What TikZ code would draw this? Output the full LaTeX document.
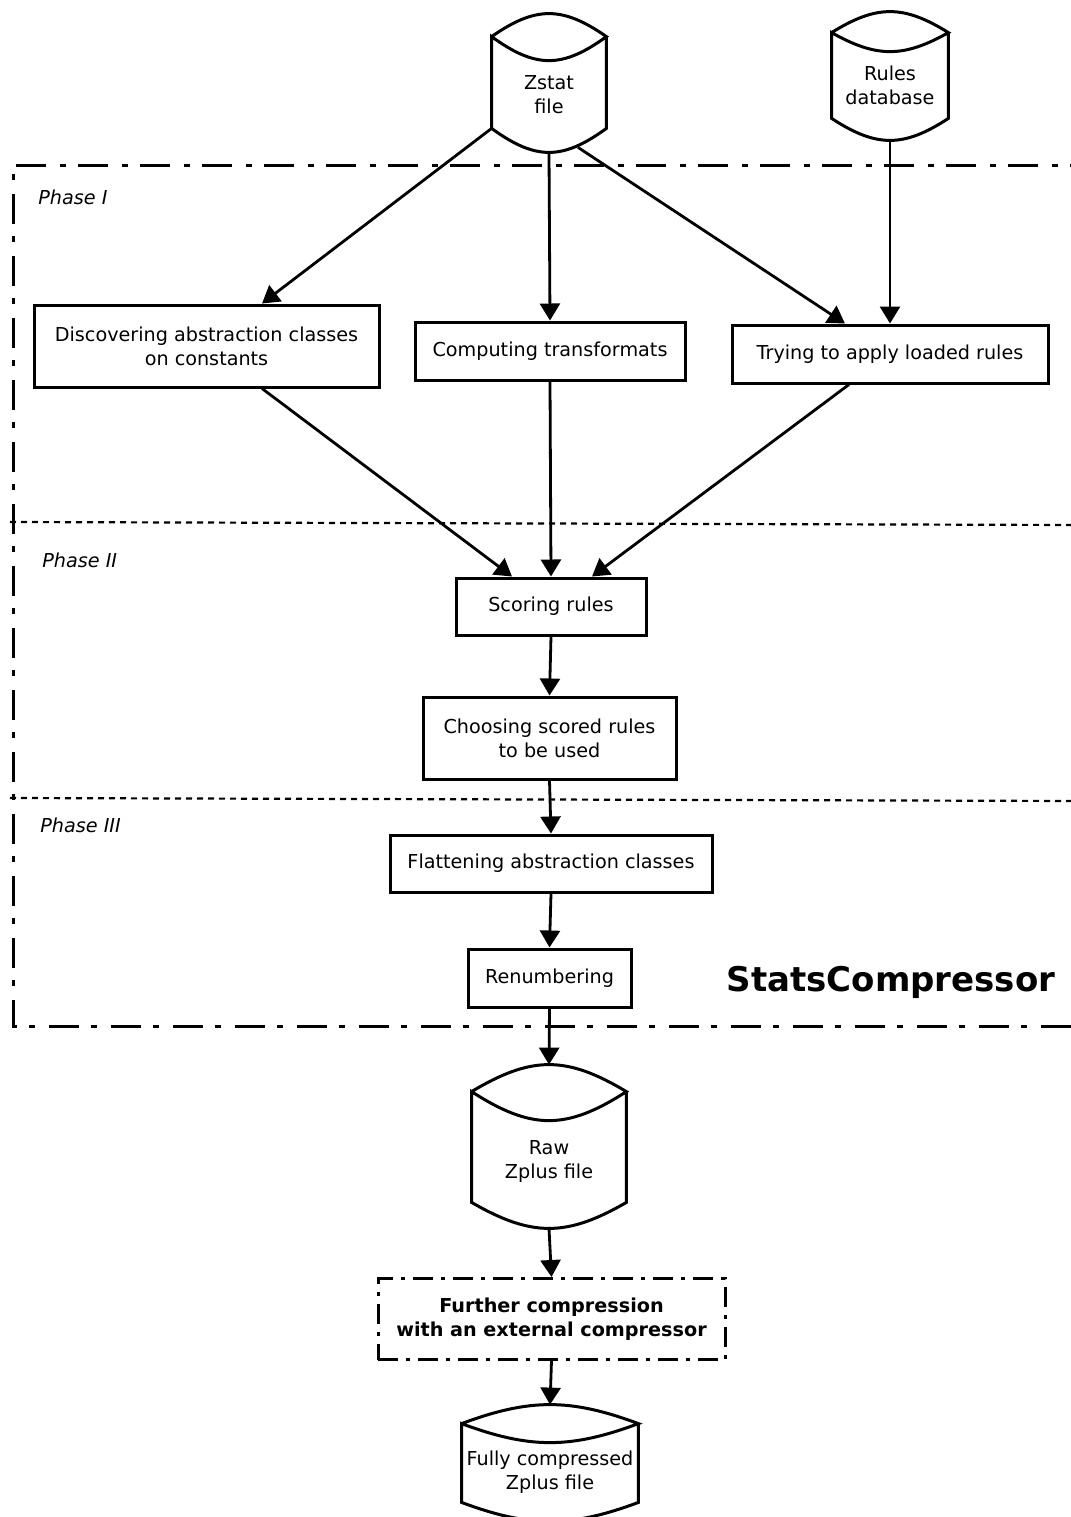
\documentclass[tikz,border=0pt]{standalone}
\usepackage{fontspec}
\setmainfont{DejaVu Sans}
\usetikzlibrary{arrows.meta}
\usetikzlibrary{calc}
\tikzset{
	node_box/.style = {
		align=center,
		draw=black,
		line width=1.5pt,
		inner sep=0pt,
		font=\fontsize{9.6}{12}\selectfont
	},
	node_db/.style = {
		align=center,
		inner sep=0pt,
		font=\fontsize{9.6}{12}\selectfont
	},
	node_ext/.style = {
		node_box,
		font=\fontsize{9.6}{12}\selectfont\bfseries,
		dash pattern=on 10pt off 4pt on 2pt off 4pt
	},
	node_phase/.style = {
		anchor=west,
		inner sep=0pt,
		font=\fontsize{9.6}{12}\selectfont\itshape
	},
	line_db/.style = {
		line width=1.5pt
	},
	line_frame/.style = {
		line width=1.5pt,
		dash pattern=on 15pt off 6pt on 3pt off 7pt
	},
	line_phase/.style = {
		line width=1.1pt,
		dash pattern=on 3pt off 2.5pt
	},
	arrow/.style = {
		->,
		line width=1.4pt
	},
}
% outline of a storage drum round the node #1
\newcommand{\drum}[5]{%
	\draw[line_db] ($(#1.north west)+(0,-#4)$) coordinate (#1-tl)
		.. controls +(#2,-#3*4/3) and +(-#2,-#3*4/3) .. ($(#1.north east)+(0,-#4)$) coordinate (#1-tr)
		.. controls +(-#2,#4*4/3) and +(#2,#4*4/3) .. (#1-tl)
		-- (#1.south west)
		.. controls +(#2,#5*4/3) and +(-#2,#5*4/3) .. (#1.south east)
		-- (#1-tr);
	\coordinate (#1-top) at ($(#1.north)+(0,-#4-#3)$);
	\coordinate (#1-bot) at ($(#1.south)+(0,#5)$);
}

\begin{document}
\begin{tikzpicture}[x=0.5pt, y=-0.5pt, >={Triangle[length=8.5pt,width=10pt]}]
\useasboundingbox (0,0) rectangle (1071,1517);
% phases
\draw [line_frame] (1100,165) -- (13,165) -- (13,1026) -- (1100,1026);
\draw [line_phase] (10,522) -- (1080,525);
\draw [line_phase] (10,798) -- (1080,801);
\node [node_phase] (ph1) at (38,197) {Phase I};
\node [node_phase] (ph2) at (42,560) {Phase II};
\node [node_phase] (ph3) at (40,825) {Phase III};
\node [font=\fontsize{17}{20}\selectfont\bfseries] (title) at (891,982) {StatsCompressor};
% storages
\node [node_db, minimum width=57pt, minimum height=33.5pt] (zstat) at (549,94.5) {Zstat\\file};
\drum{zstat}{44}{23}{24}{24}
\node [node_db, minimum width=58pt, minimum height=33pt] (rules) at (890,85) {Rules\\database};
\drum{rules}{45}{21}{19}{22}
\node [node_db, minimum width=77pt, minimum height=40.5pt] (raw) at (549,1161.5) {Raw\\Zplus file};
\drum{raw}{60}{27}{29}{26}
\node [node_db, minimum width=88pt, minimum height=29.5pt] (fully) at (550,1472.5) {Fully compressed\\Zplus file};
\drum{fully}{68}{19}{19}{19}
% steps
\node [node_box, minimum width=172.5pt, minimum height=41pt] (disc) at (206.5,346) {Discovering abstraction classes\\on constants};
\node [node_box, minimum width=135pt, minimum height=29pt] (comp) at (550,351) {Computing transformats};
\node [node_box, minimum width=158pt, minimum height=29pt] (try) at (890,354) {Trying to apply loaded rules};
\node [node_box, minimum width=95pt, minimum height=28.5pt] (score) at (551,606.5) {Scoring rules};
\node [node_box, minimum width=126.5pt, minimum height=41pt] (choose) at (549.5,738) {Choosing scored rules\\to be used};
\node [node_box, minimum width=161pt, minimum height=28.5pt] (flat) at (551,863.5) {Flattening abstraction classes};
\node [node_box, minimum width=81.5pt, minimum height=29pt] (renum) at (549.5,978) {Renumbering};
\node [node_ext, minimum width=173.5pt, minimum height=40.5pt] (further) at (551.5,1319) {Further compression\\with an external compressor};
% connectors
\draw [arrow] (zstat.south west) -- ([xshift=27.75pt]disc.north);
\draw [arrow] (zstat-bot) -- (comp.north);
\draw [arrow] ([xshift=14.5pt,yshift=2.5pt]zstat-bot) -- ([xshift=-22.5pt]try.north);
\draw [arrow] (rules-bot) -- (try.north);
\draw [arrow] ([xshift=27.75pt]disc.south) -- ([xshift=-19.5pt]score.north);
\draw [arrow] (comp.south) -- (score.north);
\draw [arrow] ([xshift=-20.5pt]try.south) -- ([xshift=20.5pt]score.north);
\draw [arrow] (score.south) -- (choose.north);
\draw [arrow] (choose.south) -- (flat.north);
\draw [arrow] (flat.south) -- (renum.north);
\draw [arrow] (renum.south) -- (raw-top);
\draw [arrow] (raw-bot) -- (further.north);
\draw [arrow] (further.south) -- (fully-top);
\end{tikzpicture}
\end{document}
